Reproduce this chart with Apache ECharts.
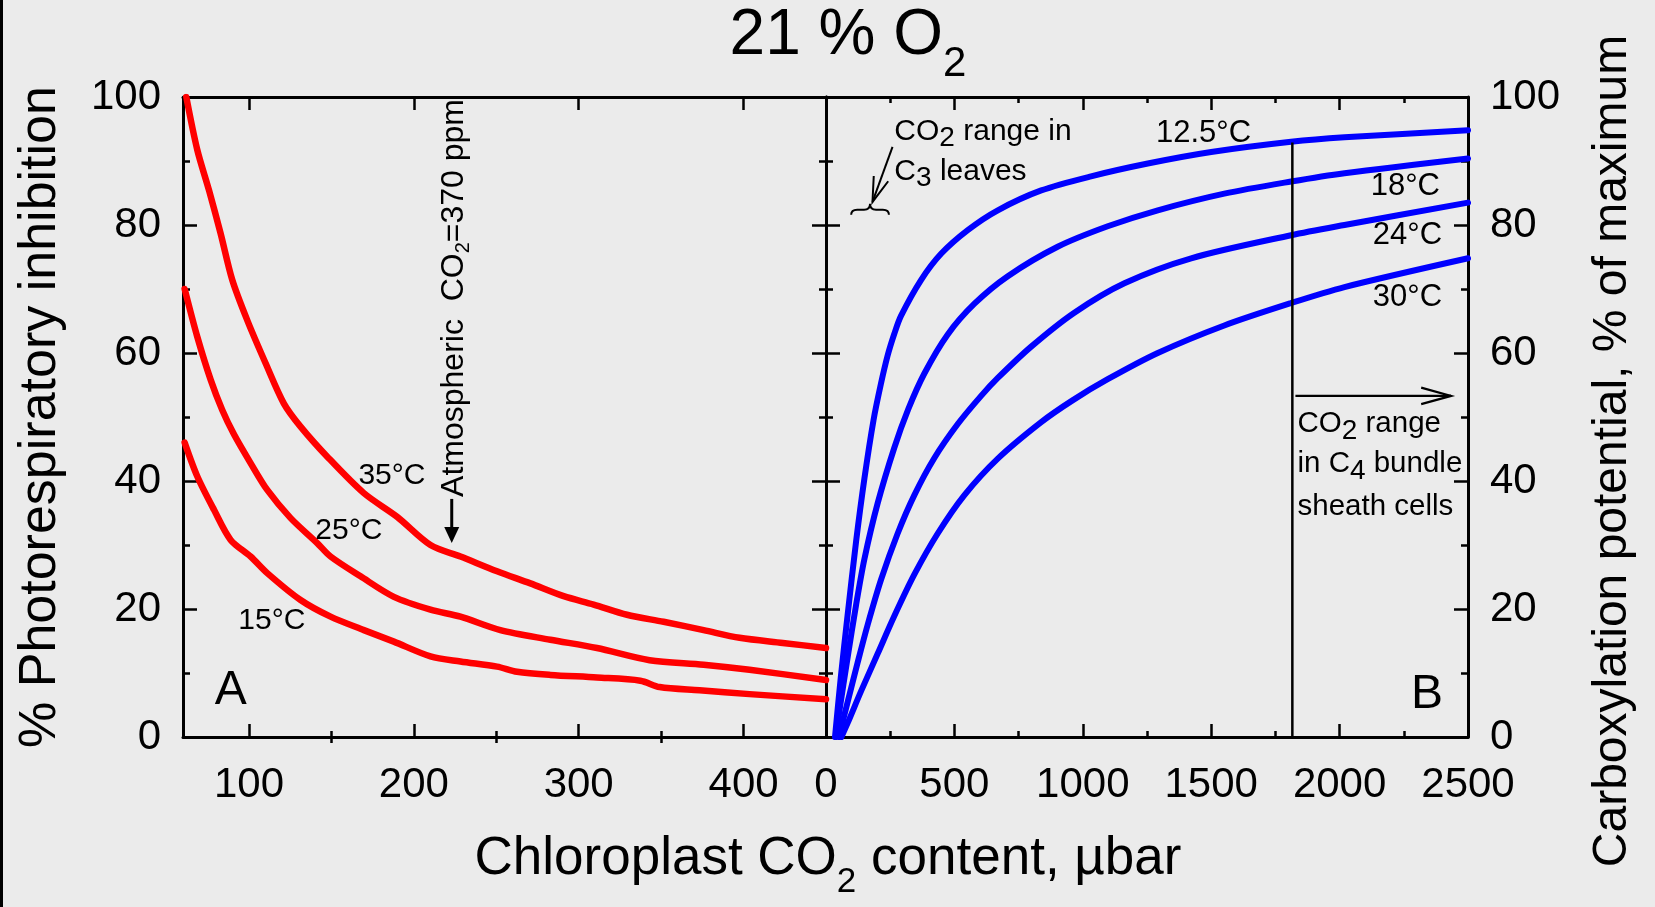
<!DOCTYPE html>
<html><head><meta charset="utf-8">
<script src="https://cdn.jsdelivr.net/npm/echarts@6/dist/echarts.min.js"></script>
<style>html,body{margin:0;padding:0;background:#ebebeb;overflow:hidden}#c{width:1655px;height:907px}</style>
</head><body><div id="c"></div>
<script>
const FONT = "'Liberation Sans', Arial, Helvetica, sans-serif";

// ---- Panel A: % photorespiratory inhibition vs chloroplast CO2 (µbar) ----
const a35X = [62, 68.7, 75.8, 82.8, 89.9, 99, 110.1, 121.2, 131.3, 147.5, 169.7, 189.9, 210.1, 228.3, 250.5, 270.7, 290.9, 309.1, 329.3, 351.5, 375.8, 397.6, 423.8, 450];
const a35Y = [100, 91.7, 85.4, 78.7, 71.4, 65.1, 58.4, 52.1, 48.5, 43.8, 38.1, 34.4, 30, 28.2, 25.9, 24, 22, 20.7, 19.1, 18, 16.7, 15.5, 14.7, 13.9];
const a25X = [61, 68.7, 76.8, 83.8, 90.9, 101, 111.1, 125.3, 141.4, 149.5, 167.7, 187.9, 210.1, 228.3, 252.5, 282.8, 311.1, 343, 375.8, 403.6, 450];
const a25Y = [70, 62.5, 55.8, 51.1, 47.3, 42.8, 38.6, 34.2, 30.3, 28.2, 25.1, 21.9, 19.9, 18.8, 16.7, 15.2, 13.9, 12, 11.3, 10.5, 8.9];
const a15X = [61, 68.7, 78.8, 88.9, 101, 111.1, 131.3, 149.5, 169.7, 187.9, 210.1, 228.3, 250.5, 262.6, 282.8, 311.1, 337.4, 349.1, 373.3, 403.6, 450];
const a15Y = [46, 40.7, 35.5, 30.8, 28.2, 25.6, 21.4, 18.8, 16.7, 14.9, 12.6, 11.8, 11, 10.2, 9.7, 9.3, 8.8, 7.8, 7.3, 6.7, 5.9];

// ---- Panel B: carboxylation potential (% of maximum) vs chloroplast CO2 (µbar) ----
const b12X = [35, 58, 84, 117, 150, 185, 214, 240, 266, 292, 370, 448, 552, 669, 838, 1032, 1253, 1500, 1811, 2019, 2500];
const b12Y = [0, 9.5, 19, 30.5, 40.5, 49.5, 55.2, 59.6, 63, 65.8, 71.4, 75.5, 79.2, 82.3, 85.4, 87.6, 89.6, 91.4, 93, 93.7, 94.8];
const b18X = [40, 52, 84.5, 117, 149.5, 201, 266, 320, 383, 474, 578, 708, 902, 1097, 1292, 1551, 1811, 2019, 2500];
const b18Y = [0, 4, 12.5, 20.6, 27.8, 36.5, 45.2, 51.2, 56.8, 62.9, 67.7, 72, 76.6, 79.8, 82.3, 84.9, 86.8, 88.1, 90.4];
const b24X = [50, 84.5, 123, 162, 214.5, 279, 344, 422, 513, 604, 669, 799, 967, 1162, 1422, 1811, 2019, 2500];
const b24Y = [0, 5.5, 11.6, 17.5, 24.6, 31.8, 37.8, 43.6, 48.9, 53.3, 56.1, 61, 66.3, 70.9, 74.8, 78.4, 80, 83.5];
const b30X = [60, 84.5, 137, 201, 266, 344, 435, 539, 669, 838, 960, 1097, 1292, 1551, 1811, 2019, 2500];
const b30Y = [0, 2.2, 7.2, 13, 18.9, 25.4, 31.8, 37.8, 43.5, 49.2, 52.6, 55.9, 60, 64.3, 67.8, 70.3, 74.8];

// C4 bundle-sheath boundary (µbar) and where it meets the 12.5 °C curve
const c4BoundaryX = [1816, 1816];
const c4BoundaryY = [0, 92.9];

// ---- Axis ticks ----
const aMajorTicks = [100, 200, 300, 400];
const aMinorTicks = [150, 250, 350];
const bTickInterval = 500;
const yTickInterval = 20;

const zip = (xs, ys) => xs.map((x, i) => [x, ys[i]]);

const chart = echarts.init(document.getElementById('c'), null, {renderer: 'canvas'});

const BLK = '#000';
const axLine = {show: true, onZero: false, lineStyle: {color: BLK, width: 3}};
const tickStyle = {color: BLK, width: 2.5};
const labelStyle = {fontSize: 42, fontFamily: FONT, color: BLK, formatter: v => String(v)};

function xAxisA(position, values, len, showLine, showLabel) {
  return {
    gridIndex: 0, type: 'value', position, min: 60, max: 450,
    axisLine: showLine ? axLine : {show: false},
    axisTick: {show: true, inside: true, length: len, customValues: values, lineStyle: tickStyle},
    axisLabel: showLabel ? Object.assign({show: true, customValues: values, margin: 27}, labelStyle) : {show: false},
    splitLine: {show: false}
  };
}
function xAxisB(position, showLabel) {
  return {
    gridIndex: 1, type: 'value', position, min: 0, max: 2500, interval: bTickInterval,
    axisLine: axLine,
    axisTick: {show: true, inside: true, length: 13, lineStyle: tickStyle},
    minorTick: {show: true, splitNumber: 2, length: 6, lineStyle: tickStyle},
    axisLabel: showLabel ? Object.assign({show: true, margin: 27}, labelStyle) : {show: false},
    splitLine: {show: false}
  };
}
function yAxis(grid, position, showLabel) {
  return {
    gridIndex: grid, type: 'value', position, min: 0, max: 100, interval: yTickInterval,
    axisLine: axLine,
    axisTick: {show: true, inside: true, length: 14, lineStyle: tickStyle},
    minorTick: {show: true, splitNumber: 2, length: 7, lineStyle: tickStyle},
    axisLabel: showLabel ? Object.assign({show: true, margin: 22}, labelStyle) : {show: false},
    splitLine: {show: false}
  };
}

function lineSeries(name, xs, ys, color, width, xi, yi) {
  return {
    name, type: 'line', xAxisIndex: xi, yAxisIndex: yi, data: zip(xs, ys),
    showSymbol: false, symbol: 'none', smooth: 0.3, silent: true,
    lineStyle: {color, width, cap: 'round', join: 'round'}, z: 3
  };
}

function txt(q, text, size, o) {
  o = o || {};
  return {
    type: 'text', x: q[0], y: q[1], rotation: o.rot || 0,
    style: Object.assign({
      text, fontSize: size, fontFamily: FONT, fill: BLK,
      align: o.align || 'center', verticalAlign: 'middle'
    }, o.style || {})
  };
}
function subRich(size, subSize, off) {
  return {
    m: {fontSize: size, fontFamily: FONT, fill: BLK},
    s: {fontSize: subSize, fontFamily: FONT, fill: BLK, padding: [off * 2, 0, 0, 0]}
  };
}
function seg(p, q, w) {
  return {type: 'line', shape: {x1: p[0], y1: p[1], x2: q[0], y2: q[1]}, style: {stroke: BLK, lineWidth: w || 2}};
}
function openHead(tail, tip, len, ang, w) {
  const a = Math.atan2(tail[1] - tip[1], tail[0] - tip[0]);
  const p1 = [tip[0] + len * Math.cos(a + ang), tip[1] + len * Math.sin(a + ang)];
  const p2 = [tip[0] + len * Math.cos(a - ang), tip[1] + len * Math.sin(a - ang)];
  return {type: 'polyline', shape: {points: [p1, tip, p2]}, style: {stroke: BLK, lineWidth: w || 2, fill: null}};
}

function renderA(params, api) {
  const c = p => api.coord(p);
  const ch = [];
  ch.push(txt(c([186.7, 40.8]), '35°C', 30));
  ch.push(txt(c([160.6, 32.2]), '25°C', 30));
  ch.push(txt(c([113.9, 18.2]), '15°C', 30));
  ch.push(txt(c([88.9, 7.3]), 'A', 48));
  // atmospheric CO2 marker
  ch.push(txt(c([224.4, 68.6]), '{m|Atmospheric  CO}{s|2}{m|=370 ppm}', 32,
    {rot: Math.PI / 2, style: {rich: subRich(32, 20, 9)}}));
  const tail = c([223, 37.2]), tip = c([223, 30.3]);
  ch.push(seg(tail, [tip[0], tip[1] - 12], 3));
  ch.push({type: 'polygon', shape: {points: [[tip[0] - 7.5, tip[1] - 16], [tip[0] + 7.5, tip[1] - 16], tip]}, style: {fill: BLK}});
  return {type: 'group', children: ch};
}

function renderB(params, api) {
  const c = p => api.coord(p);
  const ch = [];
  ch.push(txt(c([1470, 94.3]), '12.5°C', 31));
  ch.push(txt(c([2256, 86]), '18°C', 31));
  ch.push(txt(c([2264, 78.3]), '24°C', 31));
  ch.push(txt(c([2264, 68.7]), '30°C', 31));
  ch.push(txt(c([2340, 6.6]), 'B', 48));
  // C3 leaves range
  ch.push(txt(c([266, 94.6]), '{m|CO}{s|2}{m| range in}', 30, {align: 'left', style: {rich: subRich(30, 28, 7)}}));
  ch.push(txt(c([266, 88.4]), '{m|C}{s|3}{m| leaves}', 30, {align: 'left', style: {rich: subRich(30, 28, 7)}}));
  const t1 = c([259, 92.2]), t2 = c([181, 83.6]);
  ch.push(seg(t1, t2, 2));
  ch.push(openHead(t1, t2, 26, 0.3, 2));
  const bl = c([98, 82.4]), br = c([245, 82.4]);
  const xm = (bl[0] + br[0]) / 2, ym = bl[1];
  ch.push({type: 'path', shape: {pathData:
    `M${bl[0]},${ym + 5} Q${bl[0]},${ym} ${bl[0] + 6},${ym} L${xm - 6},${ym} Q${xm},${ym} ${xm},${ym - 6} ` +
    `Q${xm},${ym} ${xm + 6},${ym} L${br[0] - 6},${ym} Q${br[0]},${ym} ${br[0]},${ym + 5}`},
    style: {stroke: BLK, lineWidth: 2, fill: null}});
  // C4 bundle sheath range
  ch.push(txt(c([1836, 49]), '{m|CO}{s|2}{m| range}', 29.5, {align: 'left', style: {rich: subRich(29.5, 28, 8)}}));
  ch.push(txt(c([1836, 42.7]), '{m|in C}{s|4}{m| bundle}', 29.5, {align: 'left', style: {rich: subRich(29.5, 28, 8)}}));
  ch.push(txt(c([1836, 35.9]), 'sheath cells', 29.5, {align: 'left'}));
  const h1 = c([1828, 53.3]), h2 = c([2434, 53.3]);
  ch.push(seg(h1, h2, 2.2));
  ch.push(openHead(h1, h2, 31, 0.27, 2.2));
  return {type: 'group', children: ch};
}

const option = {
  backgroundColor: '#ebebeb',
  animation: false,
  textStyle: {fontFamily: FONT},
  grid: [
    {left: 183, right: 829, top: 97, bottom: 170, containLabel: false},
    {left: 826, right: 187, top: 97, bottom: 170, containLabel: false}
  ],
  xAxis: [
    xAxisA('bottom', aMajorTicks, 13, true, true),
    xAxisA('bottom', aMinorTicks, 6, false, false),
    xAxisA('top', aMajorTicks, 13, true, false),
    xAxisA('top', aMinorTicks, 6, false, false),
    xAxisB('bottom', true),
    xAxisB('top', false)
  ],
  yAxis: [
    yAxis(0, 'left', true),
    yAxis(0, 'right', false),
    yAxis(1, 'left', false),
    yAxis(1, 'right', true)
  ],
  series: [
    lineSeries('35°C', a35X, a35Y, '#ff0000', 6.5, 0, 0),
    lineSeries('25°C', a25X, a25Y, '#ff0000', 6.5, 0, 0),
    lineSeries('15°C', a15X, a15Y, '#ff0000', 6.5, 0, 0),
    lineSeries('12.5°C', b12X, b12Y, '#0000ff', 6, 4, 3),
    lineSeries('18°C', b18X, b18Y, '#0000ff', 6, 4, 3),
    lineSeries('24°C', b24X, b24Y, '#0000ff', 6, 4, 3),
    lineSeries('30°C', b30X, b30Y, '#0000ff', 6, 4, 3),
    {name: 'C4 boundary', type: 'line', xAxisIndex: 4, yAxisIndex: 3, data: zip(c4BoundaryX, c4BoundaryY),
      showSymbol: false, symbol: 'none', silent: true, lineStyle: {color: BLK, width: 2.5}, z: 4},
    {type: 'custom', xAxisIndex: 0, yAxisIndex: 0, data: [[0, 0]], renderItem: renderA, clip: false, silent: true, z: 6},
    {type: 'custom', xAxisIndex: 4, yAxisIndex: 3, data: [[0, 0]], renderItem: renderB, clip: false, silent: true, z: 6}
  ],
  graphic: [
    {type: 'rect', left: 0, top: 0, shape: {x: 0, y: 0, width: 3, height: 907}, style: {fill: BLK}, silent: true},
    {type: 'text', x: 848, y: 36, silent: true, style: {text: '{m|21 % O}{s|2}', align: 'center', verticalAlign: 'middle',
      rich: subRich(64, 42, 28)}},
    {type: 'text', x: 828, y: 859, silent: true, style: {text: '{m|Chloroplast CO}{s|2}{m| content, µbar}', align: 'center', verticalAlign: 'middle',
      rich: subRich(53, 35, 23)}},
    {type: 'text', x: 41, y: 417, rotation: Math.PI / 2, silent: true, style: {text: '% Photorespiratory inhibition',
      fontSize: 52, fontFamily: FONT, fill: BLK, align: 'center', verticalAlign: 'middle'}},
    {type: 'text', x: 1613, y: 451, rotation: Math.PI / 2, silent: true, style: {text: 'Carboxylation potential, % of maximum',
      fontSize: 48, fontFamily: FONT, fill: BLK, align: 'center', verticalAlign: 'middle'}}
  ]
};
chart.setOption(option);
</script>
</body></html>
